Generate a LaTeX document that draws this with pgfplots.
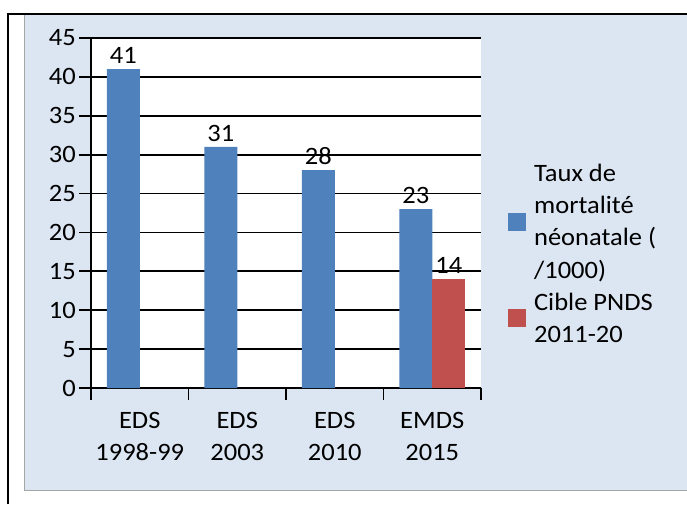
\documentclass[border=0pt]{standalone}
\usepackage{fontspec}
\setmainfont{Carlito}[FakeStretch=1.06]
\usepackage{pgfplots}
\pgfplotsset{compat=1.18}
\definecolor{panel}{RGB}{220,230,242}
\definecolor{bblue}{RGB}{79,129,189}
\definecolor{bred}{RGB}{192,80,77}
\newcommand{\bigf}{\fontsize{25}{32.3}\selectfont}
\pgfplotsset{sqlegend/.style={legend image code/.code={\fill[##1] (0pt,-9pt) rectangle (18pt,9pt);}}}
\begin{document}
\begin{tikzpicture}[x=1pt,y=1pt,font=\bigf]
\useasboundingbox (0pt,0pt) rectangle (687pt,504pt);
\fill[white] (0pt,0pt) rectangle (687pt,504pt);
\fill[panel] (24pt,14pt) rectangle (687pt,489pt);
\draw[gray!70,line width=1pt] (24pt,489pt) -- (24pt,14pt) -- (687pt,14pt);
\draw[black,line width=2pt] (8pt,0pt) -- (8pt,490pt) -- (687pt,490pt);
\begin{axis}[
  at={(91pt,116pt)}, anchor=south west,
  scale only axis, width=390pt, height=350pt,
  axis background/.style={fill=white},
  ybar=0pt, bar width=33pt,
  xmin=0.5, xmax=4.5, ymin=0, ymax=45,
  ytick={0,5,...,45},
  xtick={1,2,3,4},
  xticklabels={{EDS\\1998-99},{EDS\\2003},{EDS\\2010},{EMDS\\2015}},
  xticklabel style={align=center, font=\bigf, inner sep=0pt, yshift=-12pt},
  yticklabel style={font=\bigf, inner sep=3pt},
  minor xtick={0.5,1.5,2.5,3.5,4.5},
  major x tick style={draw=none},
  axis x line*=bottom, axis y line*=left,
  axis line style={-, black, line width=1.8pt},
  tick style={black, line width=1.8pt},
  tick align=outside,
  major tick length=12pt, minor tick length=12pt,
  ymajorgrids, major grid style={black, line width=1.8pt},
  /pgf/number format/assume math mode=true,
  nodes near coords,
  every node near coord/.append style={black, inner sep=5pt, font=\bigf},
  legend style={at={(1.069,0.383)}, anchor=west, draw=none, fill=none,
    inner sep=0pt, font=\bigf, cells={align=left, anchor=west, inner sep=0pt},
    column sep=6pt, row sep=9pt},
]
\addplot[fill=bblue, draw=none, sqlegend]
  coordinates {(1,41) (2,31) (3,28) (4,23)};
\addlegendentry{Taux de\\mortalité\\néonatale (\\/1000)}
\addplot[fill=bred, draw=none, sqlegend]
  coordinates {(4,14)};
\addlegendentry{Cible PNDS\\2011-20}
\end{axis}
\end{tikzpicture}
\end{document}
